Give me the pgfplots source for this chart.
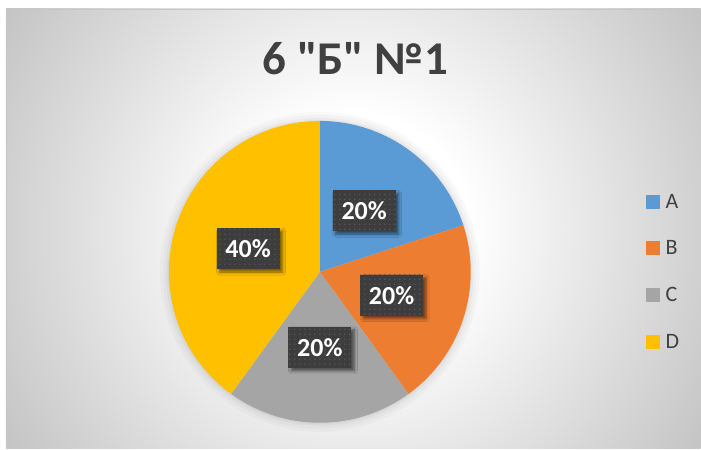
\documentclass[border=0pt]{standalone}
\usepackage{fontspec}
\setmainfont{Carlito}
\newfontfamily\titlefont{Carlito}[Ligatures=TeXOff]
\usepackage{pgfplots}
\usepackage{pgfplotstable}
\pgfplotsset{compat=1.18}
\usetikzlibrary{shadows.blur,patterns.meta}

\definecolor{cA}{HTML}{5B9BD5}
\definecolor{cB}{HTML}{ED7D31}
\definecolor{cC}{HTML}{A5A5A5}
\definecolor{cD}{HTML}{FFC000}
\definecolor{txt}{HTML}{404040}
\definecolor{lblbg}{HTML}{3D3D3D}
\definecolor{lbldot}{HTML}{585858}
\definecolor{bgout}{HTML}{C4C4C4}
\pgfdeclareradialshading{bgshade}{\pgfpoint{0bp}{0bp}}{color(0bp)=(white); color(7bp)=(white); color(25bp)=(bgout); color(50bp)=(bgout)}

\pgfplotstableread{
label value
A 20
B 20
C 20
D 40
}\piedata
\pgfplotstablegetelem{0}{value}\of\piedata \let\vA\pgfplotsretval
\pgfplotstablegetelem{1}{value}\of\piedata \let\vB\pgfplotsretval
\pgfplotstablegetelem{2}{value}\of\piedata \let\vC\pgfplotsretval
\pgfplotstablegetelem{3}{value}\of\piedata \let\vD\pgfplotsretval
\pgfmathsetmacro\total{\vA+\vB+\vC+\vD}
\pgfmathsetmacro\sA{90}
\pgfmathsetmacro\sB{\sA-360*\vA/\total}
\pgfmathsetmacro\sC{\sB-360*\vB/\total}
\pgfmathsetmacro\sD{\sC-360*\vC/\total}
\pgfmathsetmacro\sE{\sD-360*\vD/\total}
\pgfmathsetmacro\mA{(\sA+\sB)/2}
\pgfmathsetmacro\mB{(\sB+\sC)/2}
\pgfmathsetmacro\mC{(\sC+\sD)/2}
\pgfmathsetmacro\mD{(\sD+\sE)/2}
\pgfmathtruncatemacro\pA{round(100*\vA/\total)}
\pgfmathtruncatemacro\pB{round(100*\vB/\total)}
\pgfmathtruncatemacro\pC{round(100*\vC/\total)}
\pgfmathtruncatemacro\pD{round(100*\vD/\total)}

\tikzset{lbl/.style={fill=lblbg, text=white, font=\bfseries\fontsize{26}{26}\selectfont,
  minimum width=63pt, minimum height=41pt, inner sep=0pt,
  blur shadow={shadow xshift=3pt, shadow yshift=-3pt, shadow blur radius=3pt, shadow opacity=55},
  postaction={pattern={Dots[distance=5pt, radius=0.8pt]}, pattern color=lbldot}}}

\begin{document}
\begin{tikzpicture}[x=1pt,y=1pt]
\path (0,0) rectangle (701,449);
\begin{scope}
\clip (6,0) rectangle (701,440);
\shade[shading=bgshade] (353.5-411,220-411) rectangle (353.5+411,220+411);
\end{scope}
\draw[color=black!22, line width=0.8pt] (6,0) -- (6,440) -- (701,440);

\begin{axis}[at={(320pt,177pt)}, anchor=origin, x=151pt, y=151pt,
  xmin=-1, xmax=1, ymin=-1, ymax=1, hide axis, clip=false,
  legend style={at={(axis cs:2.159,0)}, anchor=west, draw=none, fill=none,
    inner sep=0pt, outer sep=0pt, row sep=31pt,
    font=\fontsize{22}{22}\selectfont, text=txt, nodes={inner sep=0pt},
    /tikz/every odd column/.append style={column sep=6pt}},
  legend cell align=left,
  legend image code/.code={\fill[#1] (0pt,-7pt) rectangle (14pt,7pt);},
]
\fill[black, opacity=0.025] (axis cs:0,0) circle[radius=160pt];
\fill[black, opacity=0.025] (axis cs:0,0) circle[radius=157pt];
\fill[black, opacity=0.03] (axis cs:0,0) circle[radius=154pt];
\fill[black, opacity=0.03] (axis cs:0,0) circle[radius=152pt];

\addplot[draw=none, fill=cA, domain=\sB:\sA, samples=40, variable=\t] ({cos(\t)},{sin(\t)}) -- (axis cs:0,0) -- cycle;
\addlegendentry{A}
\addplot[draw=none, fill=cB, domain=\sC:\sB, samples=40, variable=\t] ({cos(\t)},{sin(\t)}) -- (axis cs:0,0) -- cycle;
\addlegendentry{B}
\addplot[draw=none, fill=cC, domain=\sD:\sC, samples=40, variable=\t] ({cos(\t)},{sin(\t)}) -- (axis cs:0,0) -- cycle;
\addlegendentry{C}
\addplot[draw=none, fill=cD, domain=\sE:\sD, samples=80, variable=\t] ({cos(\t)},{sin(\t)}) -- (axis cs:0,0) -- cycle;
\addlegendentry{D}

\node[lbl] at (axis cs:{0.5*cos(\mA)},{0.5*sin(\mA)}) {\pA\%};
\node[lbl] at (axis cs:{0.5*cos(\mB)},{0.5*sin(\mB)}) {\pB\%};
\node[lbl] at (axis cs:{0.5*cos(\mC)},{0.5*sin(\mC)}) {\pC\%};
\node[lbl] at (axis cs:{0.5*cos(\mD)},{0.5*sin(\mD)}) {\pD\%};
\end{axis}

\node[anchor=base, text=txt, font=\titlefont\bfseries\fontsize{47}{47}\selectfont, inner sep=0pt] at (355.5,374) {6 "Б" №1};
\end{tikzpicture}
\end{document}
